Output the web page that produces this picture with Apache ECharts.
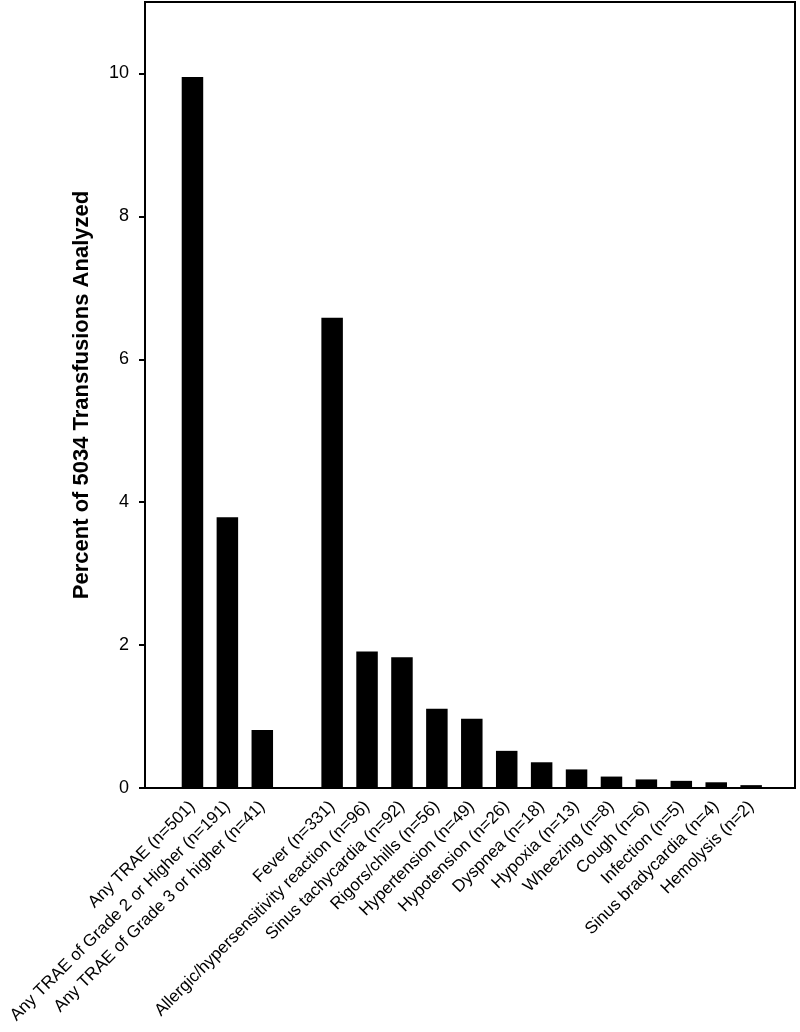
<!DOCTYPE html>
<html>
<head>
<meta charset="utf-8">
<script src="https://cdn.jsdelivr.net/npm/echarts@6/dist/echarts.min.js"></script>
<style>
html,body{margin:0;padding:0;background:#fff;}
#chart{width:800px;height:1032px;}
</style>
</head>
<body>
<div id="chart"></div>
<script>
const categories = [
  "Any TRAE (n=501)",
  "Any TRAE of Grade 2 or Higher (n=191)",
  "Any TRAE of Grade 3 or higher (n=41)",
  "",
  "Fever (n=331)",
  "Allergic/hypersensitivity reaction (n=96)",
  "Sinus tachycardia (n=92)",
  "Rigors/chills (n=56)",
  "Hypertension (n=49)",
  "Hypotension (n=26)",
  "Dyspnea (n=18)",
  "Hypoxia (n=13)",
  "Wheezing (n=8)",
  "Cough (n=6)",
  "Infection (n=5)",
  "Sinus bradycardia (n=4)",
  "Hemolysis (n=2)"
];
const percentValues = [9.95, 3.79, 0.81, null, 6.58, 1.91, 1.83, 1.11, 0.97, 0.52, 0.36, 0.26, 0.16, 0.12, 0.10, 0.08, 0.04];
const yTickValues = [0, 2, 4, 6, 8, 10];
const yTitle = "Percent of 5034 Transfusions Analyzed";

const FONT = "'Liberation Sans', Arial, sans-serif";
const chart = echarts.init(document.getElementById('chart'), null, {renderer: 'canvas'});
chart.setOption({
  backgroundColor: '#fff',
  animation: false,
  grid: [
    {left: 145, right: 5, top: 2, bottom: 244, show: true, borderColor: '#000', borderWidth: 2, backgroundColor: 'transparent'},
    {left: 175, right: 31.4, top: 2, bottom: 244}
  ],
  xAxis: [
    {type: 'value', gridIndex: 0, min: 0, max: 1, show: false},
    {type: 'category', gridIndex: 1, data: categories, boundaryGap: true,
     axisLine: {show: false}, axisTick: {show: false},
     axisLabel: {interval: 0, rotate: 45, margin: 16, color: '#000', fontFamily: FONT, fontSize: 17}}
  ],
  yAxis: [
    {type: 'value', gridIndex: 0, min: 0, max: 11, interval: 2,
     axisLine: {show: true, lineStyle: {color: '#000', width: 2}},
     axisTick: {show: true, length: 6, inside: false, customValues: yTickValues, lineStyle: {color: '#000', width: 2}},
     axisLabel: {customValues: yTickValues, margin: 16, color: '#000', fontFamily: FONT, fontSize: 18},
     splitLine: {show: false},
     name: yTitle, nameLocation: 'middle', nameGap: 52,
     nameTextStyle: {color: '#000', fontFamily: FONT, fontSize: 22, fontWeight: 'bold'}},
    {type: 'value', gridIndex: 1, min: 0, max: 11, show: false, splitLine: {show: false}}
  ],
  series: [
    {type: 'bar', xAxisIndex: 1, yAxisIndex: 1, data: percentValues, barWidth: 21.5,
     itemStyle: {color: '#000'}}
  ]
});
</script>
</body>
</html>
